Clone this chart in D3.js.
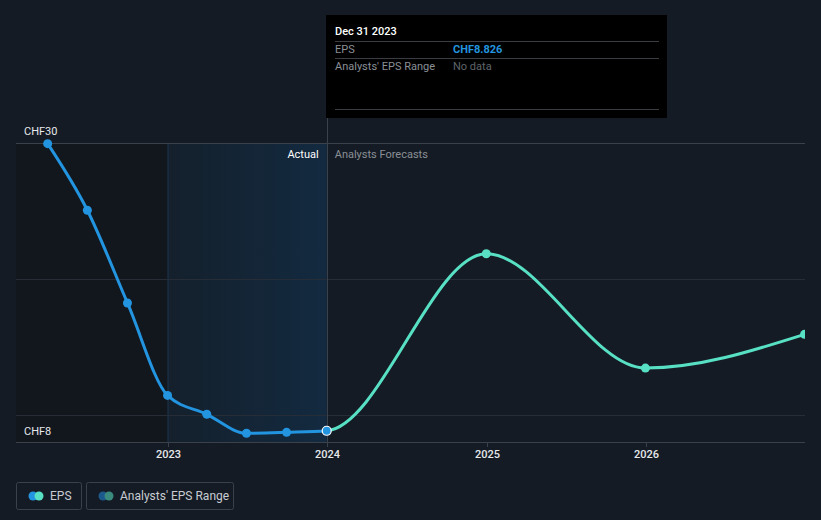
<!DOCTYPE html>
<html><head><meta charset="utf-8">
<script src="https://cdn.jsdelivr.net/npm/d3@7"></script>
<style>
html,body{margin:0;padding:0;background:#151b24;}
svg{display:block;font-family:Roboto, "Noto Sans", sans-serif;}
</style></head>
<body>
<svg id="chart" width="821" height="520"></svg>
<script>
const actualDates = ["2022-03-31","2022-06-30","2022-09-30","2022-12-31","2023-03-31","2023-06-30","2023-09-30","2023-12-31"];
const actualEPS = [29.95, 25.05, 18.23, 11.43, 10.04, 8.64, 8.71, 8.826];
const forecastDates = ["2023-12-31","2024-12-31","2025-12-31","2026-12-31"];
const forecastEPS = [8.826, 21.85, 13.44, 15.92];
const yTickValues = [30, 20, 10, 8];
const yTickLabels = {30: "CHF30", 8: "CHF8"};
const xTickYears = [2023, 2024, 2025, 2026];
const tooltipDate = "Dec 31 2023";
const tooltipEPS = "CHF8.826";

(function(){
const parse = d3.timeParse("%Y-%m-%d");
const actual = actualDates.map((d,i)=>({date:parse(d), v:actualEPS[i]}));
const forecast = forecastDates.map((d,i)=>({date:parse(d), v:forecastEPS[i]}));
const combined = actual.concat(forecast.slice(1));

const svg = d3.select("#chart");
const pLeft = 16, pRight = 805, pTop = 143, pBottom = 442;
const x = d3.scaleTime().domain([new Date(2023,0,1), new Date(2027,0,1)]).range([168, 805]);
const y = d3.scaleLinear().domain([8, 30]).range([pBottom, pTop]);
const xNow = x(parse("2023-12-31"));
const x2023 = x(new Date(2023,0,1));

const defs = svg.append("defs");
const grad = defs.append("linearGradient").attr("id","pastGrad").attr("x1","0").attr("x2","1").attr("y1","0").attr("y2","0");
grad.append("stop").attr("offset","0%").attr("stop-color","#14202c");
grad.append("stop").attr("offset","100%").attr("stop-color","#132a40");
defs.append("clipPath").attr("id","clipPast").append("rect").attr("x",0).attr("y",0).attr("width",xNow).attr("height",pBottom+10);
defs.append("clipPath").attr("id","clipFut").append("rect").attr("x",xNow).attr("y",0).attr("width",pRight-xNow).attr("height",pBottom+10);
defs.append("clipPath").attr("id","clip").append("rect").attr("x",pLeft).attr("y",0).attr("width",pRight-pLeft).attr("height",pBottom+10);

svg.append("rect").attr("x",pLeft).attr("y",pTop).attr("width",x2023-pLeft).attr("height",pBottom-pTop).attr("fill","#12171e");
svg.append("rect").attr("x",x2023).attr("y",pTop).attr("width",xNow-x2023).attr("height",pBottom-pTop).attr("fill","url(#pastGrad)");
svg.append("line").attr("x1",x2023).attr("x2",x2023).attr("y1",pTop).attr("y2",pBottom).attr("stroke","#1c3650").attr("stroke-width",1);

yTickValues.forEach(v=>{
  const yy = Math.round(y(v))+0.5;
  const strong = (v===30 || v===8);
  svg.append("line").attr("x1",pLeft).attr("x2",pRight).attr("y1",yy).attr("y2",yy)
    .attr("stroke", strong ? "#3b414b" : "#272d36").attr("stroke-width",1);
  if (yTickLabels[v]) {
    svg.append("text").attr("x",24).attr("y", v===30 ? yy-9 : yy-8).attr("fill","#e6e8eb")
      .attr("font-size",11).text(yTickLabels[v]);
  }
});

xTickYears.forEach(yr=>{
  const xx = Math.round(x(new Date(yr,0,1)))+0.5;
  svg.append("line").attr("x1",xx).attr("x2",xx).attr("y1",pBottom).attr("y2",pBottom+5).attr("stroke","#3b414b");
  svg.append("text").attr("x",xx).attr("y",pBottom+16).attr("text-anchor","middle").attr("fill","#e6e8eb")
    .attr("font-size",11).attr("font-weight",500).text(yr);
});

svg.append("line").attr("x1",Math.round(xNow)+0.5).attr("x2",Math.round(xNow)+0.5).attr("y1",15).attr("y2",pBottom)
  .attr("stroke","#3b414b").attr("stroke-width",1);

svg.append("text").attr("x",xNow-8).attr("y",158).attr("text-anchor","end").attr("fill","#ffffff").attr("font-size",11).text("Actual");
svg.append("text").attr("x",xNow+8).attr("y",158).attr("fill","#8a8f96").attr("font-size",11).text("Analysts Forecasts");

const line = d3.line().x(d=>x(d.date)).y(d=>y(d.v)).curve(d3.curveMonotoneX);
const g = svg.append("g").attr("clip-path","url(#clip)");
g.append("g").attr("clip-path","url(#clipFut)").append("path").datum(combined).attr("d",line)
  .attr("fill","none").attr("stroke","#58e0c5").attr("stroke-width",3);
g.append("g").attr("clip-path","url(#clipPast)").append("path").datum(combined).attr("d",line)
  .attr("fill","none").attr("stroke","#2394df").attr("stroke-width",3);
g.selectAll("circle.f").data(forecast.slice(1)).enter().append("circle").attr("class","f")
  .attr("cx",d=>x(d.date)).attr("cy",d=>y(d.v)).attr("r",4.5).attr("fill","#58e0c5");
g.selectAll("circle.a").data(actual.slice(0,-1)).enter().append("circle").attr("class","a")
  .attr("cx",d=>x(d.date)).attr("cy",d=>y(d.v)).attr("r",4.5).attr("fill","#2394df");
const last = actual[actual.length-1];
g.append("circle").attr("cx",x(last.date)).attr("cy",y(last.v)).attr("r",4.5).attr("fill","#2394df").attr("stroke","#ffffff").attr("stroke-width",1.2);

const tt = svg.append("g");
tt.append("rect").attr("x",326).attr("y",15).attr("width",341).attr("height",103).attr("fill","#000000");
tt.append("text").attr("x",335).attr("y",35).attr("fill","#ffffff").attr("font-size",11).attr("font-weight",500).text(tooltipDate);
[41.5,58.5,109.5].forEach(yy=>tt.append("line").attr("x1",335).attr("x2",659).attr("y1",yy).attr("y2",yy).attr("stroke","#3a3d42"));
tt.append("text").attr("x",335).attr("y",53).attr("fill","#8a8f96").attr("font-size",11).text("EPS");
tt.append("text").attr("x",453).attr("y",53).attr("fill","#2394df").attr("font-size",11).attr("font-weight",700).text(tooltipEPS);
tt.append("text").attr("x",335).attr("y",70).attr("fill","#8a8f96").attr("font-size",11).text("Analysts' EPS Range");
tt.append("text").attr("x",453).attr("y",70).attr("fill","#5f646b").attr("font-size",11).text("No data");

const legendItems = [
  {label:"EPS", x:16, w:65, c1:"#2394df", c2:"#58e0c5"},
  {label:"Analysts' EPS Range", x:86, w:147, c1:"#1d5a8c", c2:"#3a8a7e"}
];
legendItems.forEach(it=>{
  const lg = svg.append("g");
  lg.append("rect").attr("x",it.x+0.5).attr("y",482.5).attr("width",it.w).attr("height",27).attr("rx",2)
    .attr("fill","none").attr("stroke","#3b414b");
  lg.append("circle").attr("cx",it.x+17).attr("cy",496).attr("r",4.5).attr("fill",it.c1);
  lg.append("circle").attr("cx",it.x+23).attr("cy",496).attr("r",4.5).attr("fill",it.c2);
  lg.append("text").attr("x",it.x+34).attr("y",500).attr("fill","#c8ccd2").attr("font-size",12).text(it.label);
});
})();
</script>
</body></html>
